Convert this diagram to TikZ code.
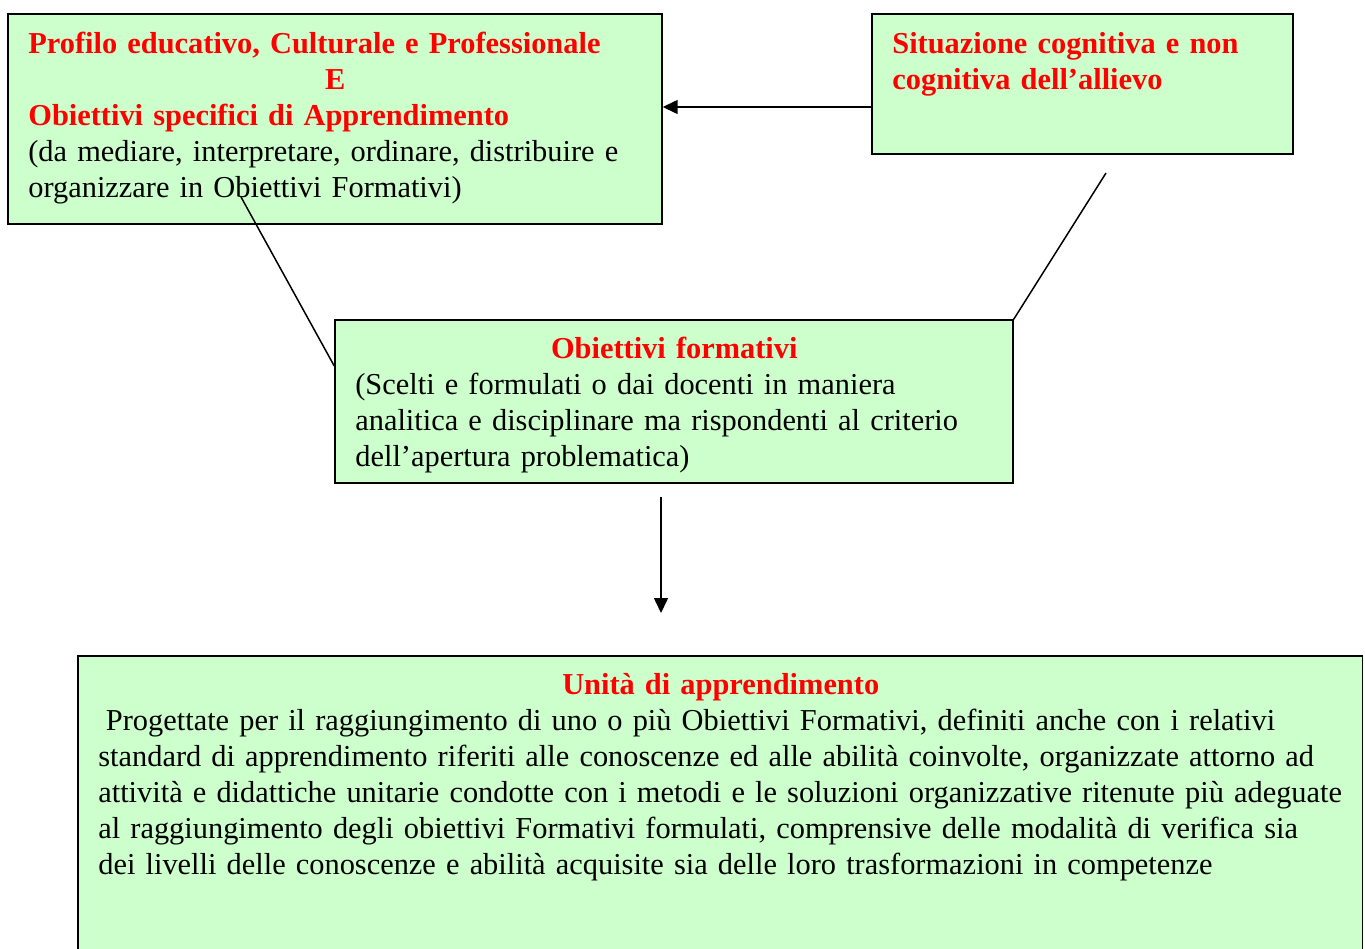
\documentclass[tikz,border=0pt]{standalone}
\usepackage{fontspec}
\setmainfont{Liberation Serif}
\usepackage{tikz}
\usetikzlibrary{positioning,calc,arrows.meta}
\definecolor{boxgreen}{RGB}{204, 255, 204}
\definecolor{titlered}{RGB}{255, 0, 0}

\tikzset{
  panel/.style={draw=black, fill=boxgreen, line width=0.9pt, inner sep=0pt},
  paneltext/.style={anchor=base west, inner sep=0pt, align=left,
    font=\fontsize{17.3}{20.5}\selectfont},
  link/.style={line width=0.85pt},
  flow/.style={line width=0.85pt, -{Triangle[length=0.3cm,width=0.28cm]}}
}
\newcommand{\titolo}[1]{\textcolor{titlered}{\textbf{#1}}}

\begin{document}
\begin{tikzpicture}[x=0.02cm, y=-0.02cm]
      \clip (0,0) rectangle (1365,948);

      % riquadri
      \node[panel, minimum width=13.08cm, minimum height=4.2cm] (profilo) at (335,119) {};
      \node[panel, minimum width=8.42cm, minimum height=2.8cm] (situazione) at (1082.5,84) {};
      \node[panel, minimum width=13.56cm, minimum height=3.26cm] (formativi) at (674,401.5) {};
      \node[panel, anchor=north west, minimum width=25.7cm, minimum height=7cm] (unita) at (77,655) {};

      % testi
      \node[paneltext, text width=12.6cm] (profilotxt) at (28,53)
        {\titolo{Profilo educativo, Culturale e Professionale}\\
         \makebox[12.28cm]{\titolo{E}}\\
         \titolo{Obiettivi specifici di Apprendimento}\\
         (da mediare, interpretare, ordinare, distribuire e\\
         organizzare in Obiettivi Formativi)};
      \node[paneltext, text width=7.9cm] (situazionetxt) at (892,53)
        {\titolo{Situazione cognitiva e non}\\
         \titolo{cognitiva dell’allievo}};
      \node[paneltext, text width=12.9cm] (formativitxt) at (355,358)
        {\makebox[12.76cm]{\titolo{Obiettivi formativi}}\\
         (Scelti e formulati o dai docenti in maniera\\
         analitica e disciplinare ma rispondenti al criterio\\
         dell’apertura problematica)};
      \node[paneltext, text width=25.3cm] (unitatxt) at (98,694)
        {\makebox[24.9cm]{\titolo{Unità di apprendimento}}\\
         \hspace*{0.25em}Progettate per il raggiungimento di uno o più Obiettivi Formativi, definiti anche con i relativi\\
         standard di apprendimento riferiti alle conoscenze ed alle abilità coinvolte, organizzate attorno ad\\
         attività e didattiche unitarie condotte con i metodi e le soluzioni organizzative ritenute più adeguate\\
         al raggiungimento degli obiettivi Formativi formulati, comprensive delle modalità di verifica sia\\
         dei livelli delle conoscenze e abilità acquisite sia delle loro trasformazioni in competenze};

      % collegamenti
      \coordinate (profiloTail) at (241,197);
      \coordinate (situazioneTail) at (1106,173);
      \coordinate (frecciaTop) at (661,497);
      \coordinate (frecciaTip) at (661,613);

      \draw[flow] ([yshift=-0.46cm]situazione.west) -- ([yshift=-0.46cm]situazione.west -| profilo.east);
      \draw[link] (situazioneTail) -- (formativi.north east);
      \draw[link] (profiloTail) -- ([yshift=0.71cm]formativi.west);
      \draw[flow] (frecciaTop) -- (frecciaTip);

    \end{tikzpicture}
\end{document}
